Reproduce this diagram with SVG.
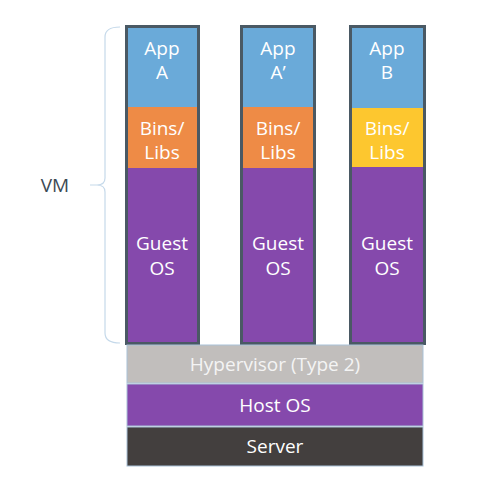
<svg xmlns="http://www.w3.org/2000/svg" width="490" height="486" viewBox="0 0 490 486">
<style>
.t{font-family:"Open Sans","Liberation Sans",sans-serif;font-size:19px;fill:#ffffff;text-anchor:middle}
.app{fill:#6aaad9}
.bins{fill:#ee8b46}
.binsy{fill:#fdc72f}
.os{fill:#8549ac}
.frame{fill:none;stroke:#4a5964;stroke-width:3}
.base{stroke:#a9c2d8;stroke-width:1}
</style>
<rect width="490" height="486" fill="#ffffff"/>
<g id="brace">
<path d="M120,27 Q105,27 105,37 L105,178 Q105,185 97,185 L90,185 M97,185 Q105,185 105,192 L105,333 Q105,343 120,343" fill="none" stroke="#c5d9ea" stroke-width="1.2"/>
<text x="55" y="192" style="font-family:'Open Sans','Liberation Sans',sans-serif;font-size:19px;fill:#3c4a55;text-anchor:middle">VM</text>
</g>
<g id="vm1">
<rect class="app" x="126" y="27" width="72" height="80"/>
<rect class="bins" x="126" y="107" width="72" height="61"/>
<rect class="os" x="126" y="168" width="72" height="175"/>
<rect class="frame" x="126.5" y="26.5" width="72" height="317"/>
<text class="t" x="162" y="55">App</text>
<text class="t" x="162" y="79">A</text>
<text class="t" x="162" y="135">Bins/</text>
<text class="t" x="162" y="159">Libs</text>
<text class="t" x="162" y="250">Guest</text>
<text class="t" x="162" y="275">OS</text>
</g>
<g id="vm2">
<rect class="app" x="241" y="27" width="73" height="80"/>
<rect class="bins" x="241" y="107" width="73" height="61"/>
<rect class="os" x="241" y="168" width="73" height="175"/>
<rect class="frame" x="241.5" y="26.5" width="73" height="317"/>
<text class="t" x="278" y="55">App</text>
<text class="t" x="278" y="79">A’</text>
<text class="t" x="278" y="135">Bins/</text>
<text class="t" x="278" y="159">Libs</text>
<text class="t" x="278" y="250">Guest</text>
<text class="t" x="278" y="275">OS</text>
</g>
<g id="vm3">
<rect class="app" x="350" y="27" width="74" height="81"/>
<rect class="binsy" x="350" y="108" width="74" height="59"/>
<rect class="os" x="350" y="167" width="74" height="176"/>
<rect class="frame" x="350.5" y="26.5" width="74" height="317"/>
<text class="t" x="387" y="55">App</text>
<text class="t" x="387" y="79">B</text>
<text class="t" x="387" y="135">Bins/</text>
<text class="t" x="387" y="159">Libs</text>
<text class="t" x="387" y="250">Guest</text>
<text class="t" x="387" y="275">OS</text>
</g>
<g id="hypervisor">
<rect class="base" x="127" y="345" width="296" height="38" fill="#c1bebc"/>
<text class="t" x="275" y="371" style="fill:#f4f4f4">Hypervisor (Type 2)</text>
</g>
<g id="hostos">
<rect class="base" x="127" y="384" width="296" height="42" fill="#8549ac"/>
<text class="t" x="275" y="412">Host OS</text>
</g>
<g id="server">
<rect class="base" x="127" y="427" width="296" height="39" fill="#433f3e"/>
<text class="t" x="275" y="453">Server</text>
</g>
<g id="connectors"></g>
</svg>
